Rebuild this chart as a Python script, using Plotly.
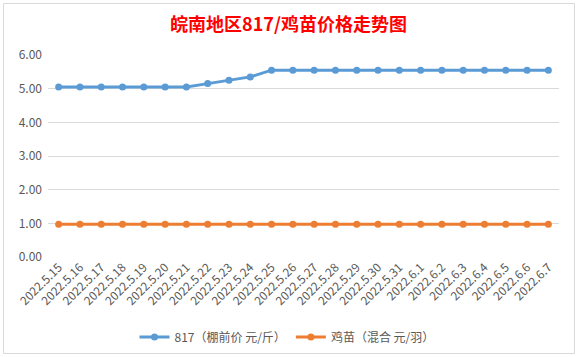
import plotly.graph_objects as go

dates = ["2022.5.15", "2022.5.16", "2022.5.17", "2022.5.18", "2022.5.19", "2022.5.20",
         "2022.5.21", "2022.5.22", "2022.5.23", "2022.5.24", "2022.5.25", "2022.5.26",
         "2022.5.27", "2022.5.28", "2022.5.29", "2022.5.30", "2022.5.31", "2022.6.1",
         "2022.6.2", "2022.6.3", "2022.6.4", "2022.6.5", "2022.6.6", "2022.6.7"]
price_817 = [5.05, 5.05, 5.05, 5.05, 5.05, 5.05, 5.05, 5.15, 5.25, 5.35, 5.55, 5.55,
             5.55, 5.55, 5.55, 5.55, 5.55, 5.55, 5.55, 5.55, 5.55, 5.55, 5.55, 5.55]
price_chick = [0.97] * 24
name_817 = "817（棚前价 元/斤）"
name_chick = "鸡苗（混合 元/羽）"
title_text = "皖南地区817/鸡苗价格走势图"

FONT = "Noto Sans CJK SC, Noto Sans, sans-serif"
GRAY = "#595959"

fig = go.Figure()
fig.add_trace(go.Scatter(x=dates, y=price_817, name=name_817, mode="lines+markers",
                         line=dict(color="#5B9BD5", width=3),
                         marker=dict(color="#5B9BD5", size=7)))
fig.add_trace(go.Scatter(x=dates, y=price_chick, name=name_chick, mode="lines+markers",
                         line=dict(color="#ED7D31", width=3),
                         marker=dict(color="#ED7D31", size=7)))

L, R, T, B = 48, 18, 55, 100
W, H = 577, 357
pw, ph = W - L - R, H - T - B

def px_x(p):
    return (p - L) / pw

def px_y(q):
    return (H - B - q) / ph

fig.update_layout(
    width=W, height=H,
    margin=dict(l=L, r=R, t=T, b=B, autoexpand=False),
    paper_bgcolor="white", plot_bgcolor="white",
    font=dict(family=FONT, size=12, color=GRAY),
    title=dict(text="<b>" + title_text + "</b>", x=0.5, xanchor="center",
               xref="container", y=1 - 25 / H, yref="container", yanchor="middle",
               font=dict(family=FONT, size=18, color="#FF0000")),
    showlegend=True,
    legend=dict(orientation="h", x=px_x(287), xanchor="center", y=px_y(337), yanchor="middle",
                font=dict(family=FONT, size=12, color=GRAY), bgcolor="rgba(0,0,0,0)",
                itemwidth=30),
    xaxis=dict(type="category", range=[-0.5, len(dates) - 0.5], tickangle=-45,
               showgrid=False, showline=False, zeroline=False,
               ticks="", automargin=False, tickfont=dict(family=FONT, size=12, color=GRAY)),
    yaxis=dict(range=[0, 6], dtick=1, tickformat=".2f", showgrid=True, gridcolor="#D9D9D9",
               gridwidth=1, zeroline=False, showline=False, ticks="", automargin=False,
               ticklabelstandoff=5,
               tickfont=dict(family=FONT, size=12, color=GRAY)),
    shapes=[dict(type="rect", xref="paper", yref="paper",
                 x0=px_x(3.5), x1=px_x(574.5), y0=px_y(353.5), y1=px_y(3.5),
                 line=dict(color="#D9D9D9", width=1), layer="below")],
)

fig.write_html("out.html", config={"displayModeBar": False},
               post_script="document.body.style.margin='0';document.body.style.overflow='hidden';")
